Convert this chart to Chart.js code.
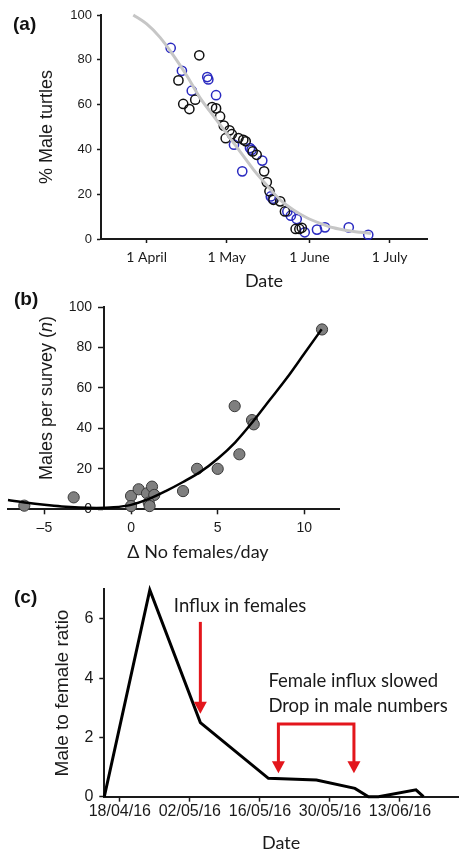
<!DOCTYPE html>
<html>
<head>
<meta charset="utf-8">
<script src="https://cdn.jsdelivr.net/npm/chart.js@4.4.1/dist/chart.umd.min.js"></script>
<style>
  html, body { margin: 0; padding: 0; background: #fff; }
  body { width: 459px; height: 854px; position: relative; overflow: hidden; }
  .panel { position: absolute; left: 0; width: 459px; }
  .tag { position: absolute; font: bold 19px "Liberation Sans", Arial, sans-serif; color: #111; line-height: 1; }
</style>
</head>
<body>
<div class="panel" style="top:0;height:292px"><canvas id="chart-a"></canvas></div>
<div class="panel" style="top:290px;height:280px"><canvas id="chart-b"></canvas></div>
<div class="panel" style="top:560px;height:294px"><canvas id="chart-c"></canvas></div>
<div class="tag" style="left:13px;top:14px">(a)</div>
<div class="tag" style="left:14px;top:289px">(b)</div>
<div class="tag" style="left:14px;top:587px">(c)</div>
<script>
const arial = '"Liberation Sans", Arial, sans-serif';
const calibri = 'Lato, "Open Sans", sans-serif';
const ink = "#1a1a1a";
const red = "#e3161c";

// (a) % male turtles, x = days after 1 April
const blackDay = [11.9, 13.7, 16.0, 18.2, 19.7, 24.5, 26.0, 27.5, 28.9, 29.6, 31.0, 31.9, 34.4,
    36.2, 37.1, 39.7, 41.2, 44.0, 45.0, 46.0, 47.5, 50.0, 51.8, 55.8, 57.2, 58.1];
const blackPct = [70.8, 60.3, 58.0, 62.2, 82.0, 58.9, 58.3, 54.7, 50.6, 45.0, 48.5, 46.8, 45.1,
    44.3, 43.6, 39.1, 37.6, 30.2, 25.4, 21.3, 17.5, 16.8, 12.3, 4.5, 4.5, 5.0];
const blueDay = [9.0, 13.2, 16.9, 22.7, 23.1, 26.0, 32.7, 35.8, 38.7, 39.3, 43.3, 46.5, 47.2,
    52.7, 54.0, 56.2, 59.2, 63.8, 66.8, 75.7, 83.0];
const bluePct = [85.3, 75.1, 66.2, 72.3, 71.2, 64.2, 42.1, 30.2, 40.6, 39.8, 35.0, 19.0, 18.0,
    12.3, 10.4, 8.9, 3.0, 4.2, 5.2, 5.2, 1.9];
const fitADay = [-5, 0, 5, 10, 15, 20, 25, 30, 35, 40, 45, 50, 55, 60, 65, 70, 75, 80, 84];
const fitAPct = [100, 96, 90, 82, 73, 63, 55, 47, 39, 31, 24, 17.5, 13, 9.5, 7, 5, 3.8, 3, 2.5];
const dateTicksA = [0, 30, 61, 91];
const dateLabelsA = ["1 April", "1 May", "1 June", "1 July"];

// (b) males per survey vs change in females per day
const deltaFemales = [-6.16, -3.31, 0, 0, 0.44, 0.92, 1.21, 1.34, 1.02, 1.07, 3.0, 3.81, 5.0,
    5.98, 6.25, 6.98, 7.08, 11.02];
const malesPerSurvey = [1.8, 5.9, 6.6, 1.6, 9.9, 7.9, 11.2, 7.1, 3.3, 1.6, 9.0, 20, 20,
    51, 27.2, 44.1, 42, 88.9];
const fitBX = [-7.1, -6, -5, -4, -3, -2, -1, 0, 1, 2, 3, 4, 5, 6, 7, 8, 9, 10, 11];
const fitBY = [4.6, 3.2, 2.2, 1.4, 0.9, 0.7, 1.0, 2.2, 5, 9, 13.5, 18.5, 25, 33, 43, 54, 65, 77, 89];
const deltaTicks = [-5, 0, 5, 10];

// (c) male to female ratio, x = days after 18/04/16
const surveyDay = [-3.1, 6, 16.1, 29.7, 39.3, 47, 49.7, 51.7, 59.2, 60.7];
const maleFemaleRatio = [0, 6.98, 2.5, 0.62, 0.56, 0.28, 0, 0, 0.23, 0];
const dateTicksC = [0, 14, 28, 42, 56];
const dateLabelsC = ["18/04/16", "02/05/16", "16/05/16", "30/05/16", "13/06/16"];
const ratioTicks = [0, 2, 4, 6];

// annotations in data units of panel (c)
const influxArrow = { day: 16.1, from: 5.9, to: 2.8 };
const slowBracket = { from: 31.7, to: 46.8, top: 2.45, tip: 0.79 };
const notes = [
    { text: "Influx in females", day: 10.8, value: 6.24 },
    { text: "Female influx slowed", day: 29.7, value: 3.71 },
    { text: "Drop in male numbers", day: 29.7, value: 2.87 },
];

const pts = (xs, ys) => xs.map((x, i) => ({ x: x, y: ys[i] }));
const fixTicks = (vals) => (scale) => { scale.ticks = vals.map((v) => ({ value: v })); };
const grid = { drawOnChartArea: false, tickLength: 5, tickColor: ink, tickWidth: 1.5 };
const border = { color: ink, width: 2 };
const noPlugins = { legend: { display: false }, tooltip: { enabled: false } };

new Chart(document.getElementById("chart-a"), {
    type: "scatter",
    data: {
        datasets: [
            { data: pts(fitADay, fitAPct), showLine: true, borderColor: "#c6c6c6", borderWidth: 3,
              pointRadius: 0, cubicInterpolationMode: "monotone", clip: false },
            { data: pts(blackDay, blackPct), borderColor: "#111", backgroundColor: "rgba(0,0,0,0)",
              pointRadius: 4.6, borderWidth: 1.5, clip: false },
            { data: pts(blueDay, bluePct), borderColor: "#2a2ac0", backgroundColor: "rgba(0,0,0,0)",
              pointRadius: 4.6, borderWidth: 1.5, clip: false },
        ],
    },
    options: {
        responsive: true, maintainAspectRatio: false, animation: false,
        layout: { padding: { left: 0, right: 32, top: 15, bottom: 0 } },
        plugins: noPlugins,
        scales: {
            x: {
                type: "linear", min: -17.1, max: 105,
                afterBuildTicks: fixTicks(dateTicksA),
                afterFit: (s) => { s.height = 53; },
                ticks: { callback: (v, i) => dateLabelsA[i], autoSkip: false, maxRotation: 0,
                         font: { family: calibri, size: 14 }, color: ink, padding: 6 },
                title: { display: true, text: "Date", color: ink,
                         font: { family: calibri, size: 18 }, padding: { top: 0, bottom: 0 } },
                grid: Object.assign({}, grid, { tickLength: 4 }), border: border,
            },
            y: {
                min: 0, max: 100,
                ticks: { stepSize: 20, font: { family: arial, size: 13 }, color: ink, padding: 5 },
                afterFit: (s) => { s.width = 101; },
                title: { display: true, text: "% Male turtles", color: ink,
                         font: { family: arial, size: 18 }, padding: { top: 36, bottom: 0 } },
                grid: Object.assign({}, grid, { tickLength: 4 }), border: border,
            },
        },
    },
});

const titlesB = {
    id: "titlesB",
    afterDraw(chart) {
        const ctx = chart.ctx;
        ctx.save();
        ctx.fillStyle = ink;
        ctx.textBaseline = "middle";
        const parts = [["Males per survey (", ""], ["n", "italic "], [")", ""]];
        const fonts = parts.map((p) => p[1] + "18px " + arial);
        let total = 0;
        parts.forEach((p, i) => { ctx.font = fonts[i]; total += ctx.measureText(p[0]).width; });
        ctx.translate(47, 108);
        ctx.rotate(-Math.PI / 2);
        let cx = -total / 2;
        parts.forEach((p, i) => {
            ctx.font = fonts[i];
            ctx.fillText(p[0], cx, 0);
            cx += ctx.measureText(p[0]).width;
        });
        ctx.restore();
        ctx.save();
        ctx.fillStyle = ink;
        ctx.font = "18px " + calibri;
        ctx.textAlign = "center";
        ctx.textBaseline = "alphabetic";
        ctx.fillText("Δ No females/day", 198, 268);
        ctx.restore();
    },
};

new Chart(document.getElementById("chart-b"), {
    type: "scatter",
    data: {
        datasets: [
            { data: pts(fitBX, fitBY), showLine: true, borderColor: "#000", borderWidth: 2.5,
              pointRadius: 0, cubicInterpolationMode: "monotone", clip: false },
            { data: pts(deltaFemales, malesPerSurvey), backgroundColor: "#7f7f7f", borderColor: "#3a3a3a",
              borderWidth: 1, pointRadius: 5.6, clip: false },
        ],
    },
    options: {
        responsive: true, maintainAspectRatio: false, animation: false,
        layout: { padding: { left: 8, right: 120, top: 17, bottom: 0 } },
        plugins: noPlugins,
        scales: {
            x: {
                type: "linear", min: -7.1, max: 12,
                afterBuildTicks: fixTicks(deltaTicks),
                afterFit: (s) => { s.height = 60.7; },
                ticks: { callback: (v) => (v < 0 ? "–" + Math.abs(v) : String(v)), autoSkip: false,
                         maxRotation: 0, font: { family: arial, size: 14 }, color: ink, padding: 5 },
                grid: grid, border: border,
            },
            y: {
                min: 0, max: 100, position: { x: -1.58 },
                // an axis placed at a value ignores tick padding, so pad the label text itself
                ticks: { stepSize: 20, callback: (v) => v + "   ",
                         font: { family: arial, size: 14 }, color: ink },
                grid: grid, border: border,
            },
        },
    },
    plugins: [titlesB],
});

const annotC = {
    id: "annotC",
    afterDatasetsDraw(chart) {
        const { ctx, scales } = chart;
        const x = scales.x, y = scales.y;
        ctx.save();
        ctx.strokeStyle = red;
        ctx.fillStyle = red;
        ctx.lineWidth = 3;
        const head = (px, py) => {
            ctx.beginPath();
            ctx.moveTo(px - 6.5, py - 12);
            ctx.lineTo(px + 6.5, py - 12);
            ctx.lineTo(px, py);
            ctx.closePath();
            ctx.fill();
        };
        let px = x.getPixelForValue(influxArrow.day);
        let tip = y.getPixelForValue(influxArrow.to);
        ctx.beginPath();
        ctx.moveTo(px, y.getPixelForValue(influxArrow.from));
        ctx.lineTo(px, tip - 11);
        ctx.stroke();
        head(px, tip);
        const xl = x.getPixelForValue(slowBracket.from), xr = x.getPixelForValue(slowBracket.to);
        const top = y.getPixelForValue(slowBracket.top);
        tip = y.getPixelForValue(slowBracket.tip);
        ctx.beginPath();
        ctx.moveTo(xl, tip - 11);
        ctx.lineTo(xl, top);
        ctx.lineTo(xr, top);
        ctx.lineTo(xr, tip - 11);
        ctx.stroke();
        head(xl, tip);
        head(xr, tip);
        ctx.fillStyle = ink;
        ctx.font = "18.5px " + calibri;
        ctx.textBaseline = "alphabetic";
        notes.forEach((n) => ctx.fillText(n.text, x.getPixelForValue(n.day), y.getPixelForValue(n.value)));
        ctx.restore();
    },
};

new Chart(document.getElementById("chart-c"), {
    type: "scatter",
    data: {
        datasets: [
            { data: pts(surveyDay, maleFemaleRatio), showLine: true, borderColor: "#000", borderWidth: 3,
              pointRadius: 0, tension: 0, clip: false },
        ],
    },
    options: {
        responsive: true, maintainAspectRatio: false, animation: false,
        layout: { padding: { left: 0, right: 1, top: 29.3, bottom: 0 } },
        plugins: noPlugins,
        scales: {
            x: {
                type: "linear", min: -3.1, max: 67.6,
                afterBuildTicks: fixTicks(dateTicksC),
                afterFit: (s) => { s.height = 57.3; },
                ticks: { callback: (v, i) => dateLabelsC[i], autoSkip: false, maxRotation: 0,
                         font: { family: arial, size: 16 }, color: ink, padding: 0 },
                title: { display: true, text: "Date", color: ink,
                         font: { family: calibri, size: 18 }, padding: { top: 0, bottom: 0 } },
                grid: grid, border: border,
            },
            y: {
                min: 0, max: 7,
                afterBuildTicks: fixTicks(ratioTicks),
                afterFit: (s) => { s.width = 104.3; },
                ticks: { font: { family: arial, size: 16 }, color: ink, padding: 6 },
                title: { display: true, text: "Male to female ratio", color: ink,
                         font: { family: arial, size: 19 }, padding: { top: 51, bottom: 0 } },
                grid: grid, border: border,
            },
        },
    },
    plugins: [annotC],
});
</script>
</body>
</html>
